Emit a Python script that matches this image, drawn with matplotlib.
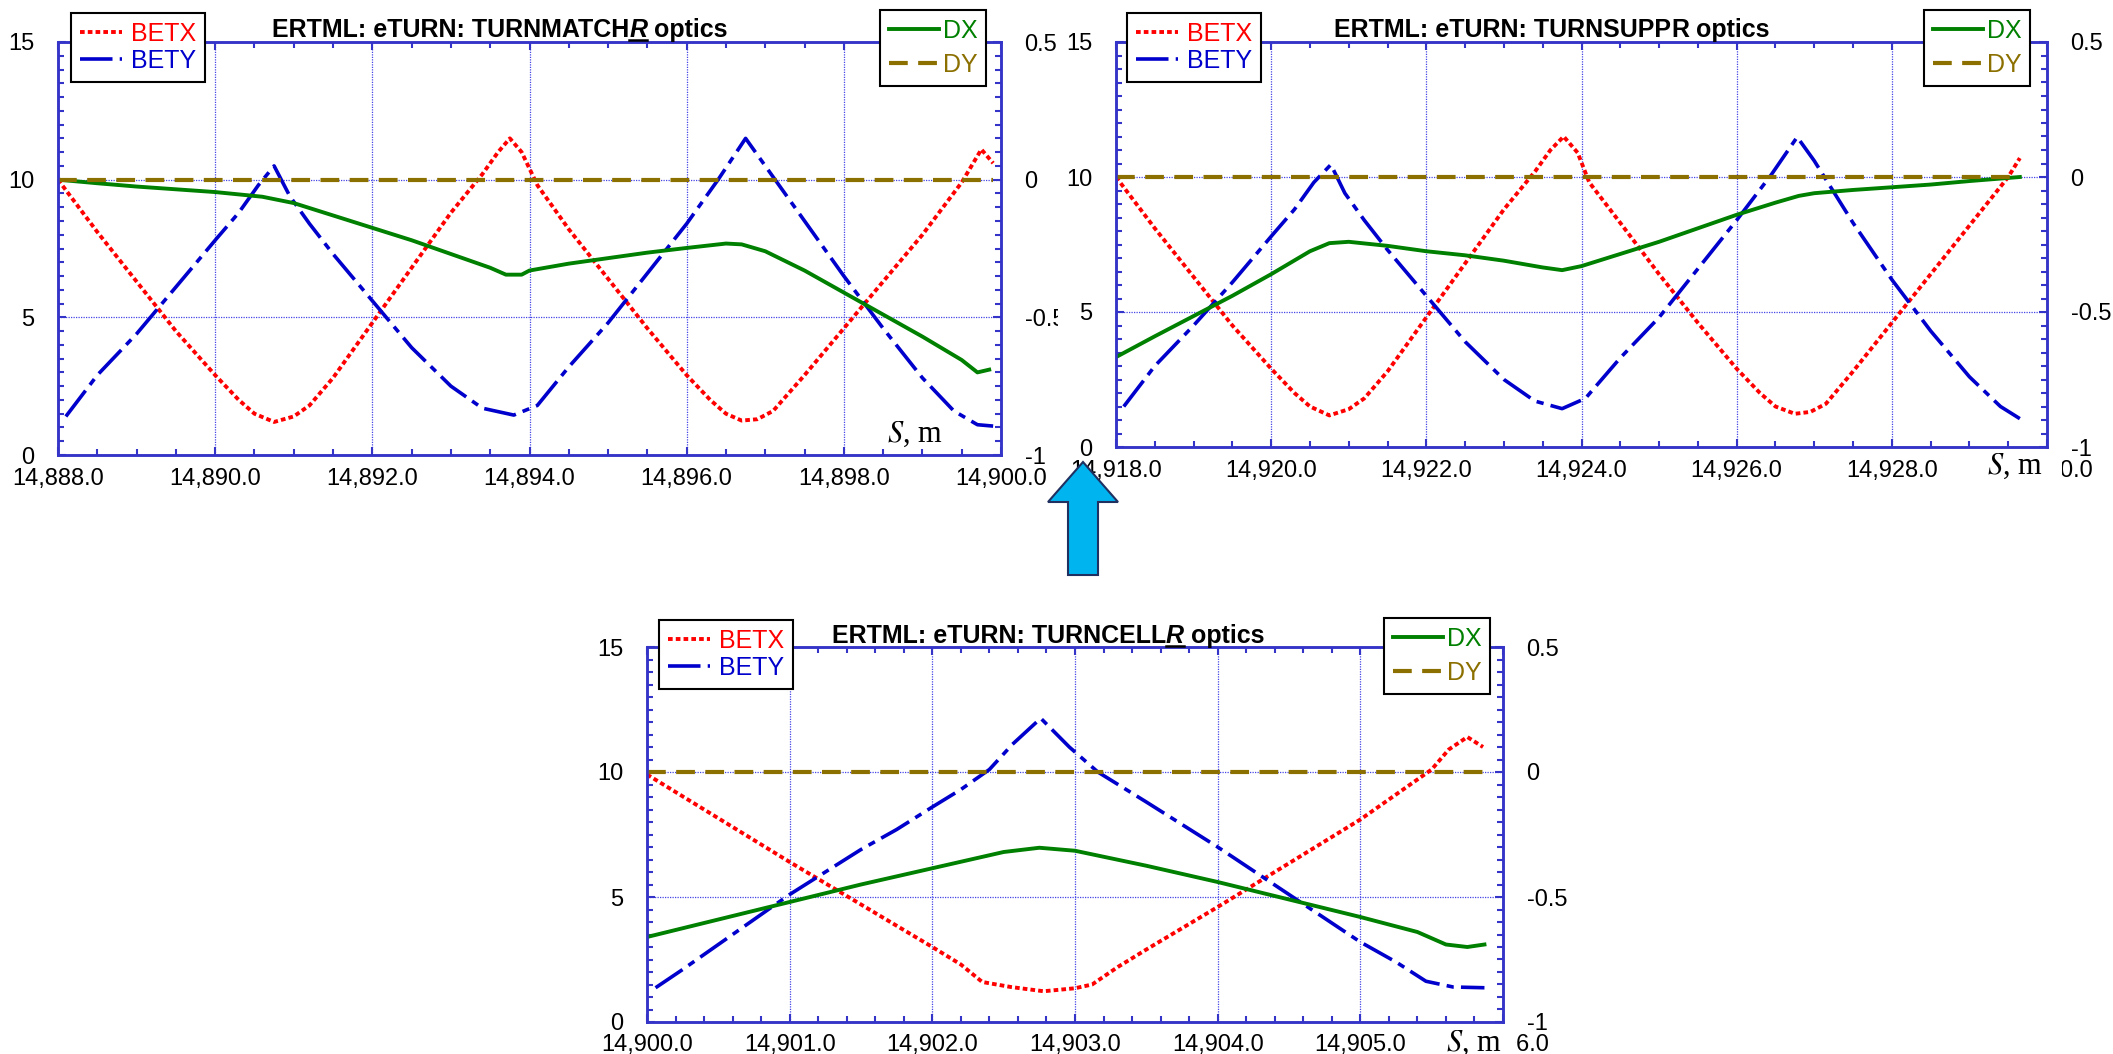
import matplotlib
matplotlib.use('Agg')
import matplotlib.pyplot as plt
from matplotlib.ticker import MultipleLocator, StrMethodFormatter, FuncFormatter
from matplotlib.patches import Rectangle, Polygon
from matplotlib.lines import Line2D

plt.rcParams['font.family'] = 'Liberation Sans'
plt.rcParams['axes.unicode_minus'] = False
plt.rcParams['mathtext.fontset'] = 'stix'

# ---- TURNMATCHR optics ----
s_match_betx = [14888.0, 14888.5, 14889.0, 14889.5, 14890.0, 14890.3, 14890.5, 14890.75, 14891.0, 14891.2,
                14891.5, 14892.0, 14892.5, 14893.0, 14893.4, 14893.6, 14893.75, 14893.9, 14894.1, 14894.5,
                14895.0, 14895.5, 14896.0, 14896.3, 14896.5, 14896.7, 14896.9, 14897.1, 14897.5, 14898.0,
                14898.5, 14899.0, 14899.5, 14899.75, 14899.9]
betx_match = [10.0, 8.1, 6.3, 4.5, 2.9, 2.0, 1.5, 1.2, 1.4, 1.8,
              2.8, 4.8, 6.8, 8.8, 10.2, 11.0, 11.5, 11.0, 9.8, 8.2,
              6.4, 4.6, 2.9, 2.0, 1.5, 1.25, 1.3, 1.6, 2.9, 4.6,
              6.3, 8.0, 9.9, 11.1, 10.6]
s_match_bety = [14888.1, 14888.5, 14889.0, 14889.5, 14890.0, 14890.3, 14890.55, 14890.75, 14890.95, 14891.2,
                14891.5, 14892.0, 14892.5, 14893.0, 14893.4, 14893.8, 14894.1, 14894.5, 14895.0, 14895.5,
                14896.0, 14896.4, 14896.75, 14897.0, 14897.5, 14898.0, 14898.5, 14899.0, 14899.4, 14899.7,
                14899.9]
bety_match = [1.4, 2.9, 4.4, 6.1, 7.8, 8.8, 9.8, 10.5, 9.4, 8.4,
              7.3, 5.6, 3.9, 2.5, 1.7, 1.45, 1.8, 3.2, 4.8, 6.6,
              8.4, 10.0, 11.5, 10.5, 8.5, 6.5, 4.6, 2.8, 1.6, 1.1,
              1.05]
s_match_dx = [14888.0, 14888.5, 14889.0, 14889.5, 14890.0, 14890.6, 14891.0, 14891.5, 14892.0, 14892.5,
              14893.0, 14893.5, 14893.7, 14893.9, 14894.0, 14894.5, 14895.0, 14895.5, 14896.0, 14896.5,
              14896.7, 14897.0, 14897.5, 14898.0, 14898.5, 14899.0, 14899.5, 14899.7, 14899.85]
dx_match = [0.0, -0.013, -0.025, -0.035, -0.045, -0.062, -0.085, -0.13, -0.175, -0.22,
            -0.27, -0.32, -0.345, -0.345, -0.33, -0.305, -0.285, -0.265, -0.248, -0.232,
            -0.235, -0.26, -0.33, -0.41, -0.49, -0.57, -0.655, -0.70, -0.69]
s_match_dy = [14888.0, 14899.9]
dy_match = [0.0, 0.0]

# ---- TURNSUPPR optics ----
s_suppr_betx = [14918.0, 14918.5, 14919.0, 14919.5, 14920.0, 14920.3, 14920.5, 14920.75, 14921.0, 14921.2,
                14921.5, 14922.0, 14922.5, 14923.0, 14923.4, 14923.6, 14923.77, 14923.95, 14924.1, 14924.5,
                14925.0, 14925.5, 14926.0, 14926.3, 14926.5, 14926.75, 14926.95, 14927.15, 14927.5, 14928.0,
                14928.5, 14929.0, 14929.5, 14929.65]
betx_suppr = [10.0, 8.1, 6.3, 4.5, 2.9, 2.0, 1.5, 1.17, 1.4, 1.8,
              2.8, 4.8, 6.8, 8.8, 10.2, 11.0, 11.5, 10.9, 9.8, 8.3,
              6.4, 4.6, 2.9, 2.0, 1.5, 1.23, 1.3, 1.6, 2.8, 4.6,
              6.4, 8.2, 10.0, 10.7]
s_suppr_bety = [14918.1, 14918.5, 14919.0, 14919.5, 14920.0, 14920.3, 14920.55, 14920.77, 14920.95, 14921.2,
                14921.5, 14922.0, 14922.5, 14923.0, 14923.4, 14923.75, 14924.05, 14924.5, 14925.0, 14925.5,
                14926.0, 14926.45, 14926.78, 14927.0, 14927.5, 14928.0, 14928.5, 14929.0, 14929.4, 14929.65]
bety_suppr = [1.5, 3.0, 4.5, 6.1, 7.8, 8.8, 9.8, 10.46, 9.4, 8.4,
              7.3, 5.6, 3.9, 2.5, 1.7, 1.42, 1.8, 3.3, 4.8, 6.6,
              8.4, 10.1, 11.48, 10.6, 8.3, 6.2, 4.3, 2.6, 1.5, 1.05]
s_suppr_dx = [14918.0, 14918.5, 14919.0, 14919.5, 14920.0, 14920.5, 14920.75, 14921.0, 14921.5, 14922.0,
              14922.5, 14923.0, 14923.5, 14923.75, 14924.0, 14924.5, 14925.0, 14925.5, 14926.0, 14926.5,
              14926.8, 14927.0, 14927.5, 14928.0, 14928.5, 14929.0, 14929.65]
dx_suppr = [-0.667, -0.59, -0.515, -0.44, -0.36, -0.275, -0.245, -0.24, -0.255, -0.275,
            -0.29, -0.31, -0.335, -0.345, -0.33, -0.285, -0.24, -0.19, -0.14, -0.095,
            -0.07, -0.06, -0.048, -0.038, -0.028, -0.015, 0.0]
s_suppr_dy = [14918.0, 14929.65]
dy_suppr = [0.0, 0.0]

# ---- TURNCELLR optics ----
s_cell_betx = [14900.0, 14900.5, 14901.0, 14901.5, 14902.0, 14902.2, 14902.35, 14902.55, 14902.78, 14903.0,
               14903.12, 14903.3, 14903.5, 14904.0, 14904.5, 14905.0, 14905.5, 14905.62, 14905.75, 14905.86]
betx_cell = [9.9, 8.15, 6.4, 4.7, 3.0, 2.3, 1.6, 1.4, 1.23, 1.35,
             1.5, 2.2, 2.9, 4.6, 6.35, 8.1, 10.1, 10.9, 11.4, 11.0]
s_cell_bety = [14900.06, 14900.25, 14900.5, 14900.75, 14901.0, 14901.25, 14901.5, 14901.75, 14902.0, 14902.2,
               14902.4, 14902.56, 14902.76, 14902.96, 14903.16, 14903.5, 14904.0, 14904.5, 14905.0, 14905.25,
               14905.46, 14905.65, 14905.87]
bety_cell = [1.37, 2.1, 3.1, 4.1, 5.1, 6.0, 6.9, 7.7, 8.6, 9.3,
             10.1, 11.1, 12.15, 11.0, 10.0, 8.8, 7.0, 5.1, 3.2, 2.4,
             1.63, 1.4, 1.37]
s_cell_dx = [14900.0, 14900.5, 14901.0, 14901.5, 14902.0, 14902.5, 14902.75, 14903.0, 14903.5, 14904.0,
             14904.5, 14905.0, 14905.4, 14905.6, 14905.75, 14905.87]
dx_cell = [-0.66, -0.59, -0.52, -0.45, -0.385, -0.32, -0.303, -0.315, -0.375, -0.44,
           -0.51, -0.58, -0.64, -0.69, -0.70, -0.69]
s_cell_dy = [14900.0, 14905.9]
dy_cell = [0.0, 0.0]

W, H = 2113, 1054
AXIS_BLUE = '#3434C8'
GRID_BLUE = '#4646E6'

fig = plt.figure(figsize=(W / 100, H / 100), dpi=100)


def px_rect(left, top, right, bottom):
    return [left / W, 1 - bottom / H, (right - left) / W, (bottom - top) / H]


def fig_xy(x, y):
    return x / W, 1 - y / H


def draw_panel(rect, xlim, xmajor, xminor, sbx, bx, sby, by, sdx, dx, sdy, dy, leg_left, leg_right, z=0):
    ax = fig.add_axes(rect)
    ax2 = ax.twinx()
    ax.set_zorder(z)
    ax2.set_zorder(z)

    l1, = ax.plot(sbx, bx, color='#FF0000', lw=2.8, ls=(0, (1.2, 0.8)), label='BETX')
    l2, = ax.plot(sby, by, color='#0000CC', lw=2.6, ls=(0, (9, 2, 2, 2)), label='BETY')
    l3, = ax2.plot(sdx, dx, color='#008000', lw=2.8, label='DX')
    l4, = ax2.plot(sdy, dy, color='#8B7000', lw=3.0, ls=(0, (4.5, 2.5)), label='DY')

    ax.set_xlim(xlim)
    ax.set_ylim(0, 15)
    ax2.set_ylim(-1, 0.5)
    ax.xaxis.set_major_locator(MultipleLocator(xmajor))
    ax.xaxis.set_minor_locator(MultipleLocator(xminor))
    ax.yaxis.set_major_locator(MultipleLocator(5))
    ax.yaxis.set_minor_locator(MultipleLocator(0.5))
    ax2.yaxis.set_major_locator(MultipleLocator(0.5))
    ax2.yaxis.set_minor_locator(MultipleLocator(0.05))
    ax.xaxis.set_major_formatter(StrMethodFormatter('{x:,.1f}'))
    ax.yaxis.set_major_formatter(FuncFormatter(lambda v, p: f'{v:g}'))
    ax2.yaxis.set_major_formatter(FuncFormatter(lambda v, p: f'{v:g}'))

    ax.grid(which='major', color=GRID_BLUE, ls=(0, (1, 1)), lw=0.9)
    for a in (ax, ax2):
        for sp in a.spines.values():
            sp.set_color(AXIS_BLUE)
            sp.set_linewidth(1.8)
    ax.tick_params(which='both', direction='in', top=True, color=AXIS_BLUE, width=1.5,
                   labelsize=17, labelcolor='black')
    ax.tick_params(which='major', length=6)
    ax.tick_params(which='minor', length=4)
    ax.tick_params(axis='y', pad=17)
    ax.tick_params(axis='x', pad=9)
    ax2.tick_params(which='both', direction='in', color=AXIS_BLUE, width=1.5,
                    labelsize=17, labelcolor='black', pad=17)
    ax2.tick_params(which='major', length=6)
    ax2.tick_params(which='minor', length=4)

    leg1 = ax2.legend(handles=[l1, l2], loc='upper left', bbox_to_anchor=fig_xy(*leg_left),
                      bbox_transform=fig.transFigure, fontsize=18, labelcolor='linecolor',
                      fancybox=False, edgecolor='black', framealpha=1, borderaxespad=0,
                      handlelength=1.7, handletextpad=0.35, borderpad=0.35, labelspacing=0.12)
    leg1.get_frame().set_linewidth(1.5)
    ax2.add_artist(leg1)
    leg2 = ax2.legend(handles=[l3, l4], loc='upper right', bbox_to_anchor=fig_xy(*leg_right),
                      bbox_transform=fig.transFigure, fontsize=18, labelcolor='linecolor',
                      fancybox=False, edgecolor='black', framealpha=1, borderaxespad=0,
                      handlelength=2.0, handletextpad=0.15, borderpad=0.35, labelspacing=0.4)
    leg2.get_frame().set_linewidth(1.5)
    return ax, ax2


def draw_title(cx, base_y, head, tail, italic_r):
    renderer = fig.canvas.get_renderer()
    kw = dict(fontsize=18, fontweight='bold', va='baseline', ha='left')
    y = 1 - base_y / H
    t1 = fig.text(0, y, head, **kw)
    t2 = fig.text(0, y, 'R', fontstyle='italic' if italic_r else 'normal', **kw)
    t3 = fig.text(0, y, tail, **kw)
    w1 = t1.get_window_extent(renderer).width
    w2 = t2.get_window_extent(renderer).width
    w3 = t3.get_window_extent(renderer).width
    gap = 7
    x0 = cx - (w1 + w2 + gap + w3) / 2
    t1.set_x(x0 / W)
    t2.set_x((x0 + w1) / W)
    t3.set_x((x0 + w1 + w2 + gap) / W)
    if italic_r:
        fig.add_artist(Line2D([(x0 + w1) / W, (x0 + w1 + w2) / W], [1 - (base_y + 3) / H] * 2,
                              color='black', lw=1.8, transform=fig.transFigure))


def s_label(x, base_y, cover=None, z=4):
    if cover is not None:
        x0, y0, x1, y1 = cover
        fig.add_artist(Rectangle(fig_xy(x0, y1), (x1 - x0) / W, (y1 - y0) / H,
                                 transform=fig.transFigure, facecolor='white',
                                 edgecolor='none', zorder=z - 1))
    fig.text(x / W, 1 - base_y / H, '$S$, m', fontsize=22, family='Liberation Serif',
             va='baseline', ha='left', zorder=z)


# top left: TURNMATCHR
draw_panel(px_rect(58, 42, 1001, 455), (14888, 14900), 2, 0.5,
           s_match_betx, betx_match, s_match_bety, bety_match,
           s_match_dx, dx_match, s_match_dy, dy_match,
           leg_left=(71, 13), leg_right=(986, 10), z=0)
draw_title(500, 37, 'ERTML: eTURN: TURNMATCH', 'optics', True)
s_label(887, 442)

# the right-hand labels of the first panel are cut where the second begins
fig.add_artist(Rectangle(fig_xy(1058, 500), 60 / W, 500 / H, transform=fig.transFigure,
                         facecolor='white', edgecolor='none', zorder=1))

# top right: TURNSUPPR
draw_panel(px_rect(1116, 42, 2047, 447), (14918, 14930), 2, 0.5,
           s_suppr_betx, betx_suppr, s_suppr_bety, bety_suppr,
           s_suppr_dx, dx_suppr, s_suppr_dy, dy_suppr,
           leg_left=(1127, 13), leg_right=(2030, 10), z=2)
draw_title(1552, 37, 'ERTML: eTURN: TURNSUPP', 'optics', False)
s_label(1987, 474, cover=(1982, 450, 2062, 492))

# bottom: TURNCELLR
draw_panel(px_rect(647, 647, 1503, 1022), (14900, 14906), 1, 0.2,
           s_cell_betx, betx_cell, s_cell_bety, bety_cell,
           s_cell_dx, dx_cell, s_cell_dy, dy_cell,
           leg_left=(659, 620), leg_right=(1490, 618), z=0)
draw_title(1048, 643, 'ERTML: eTURN: TURNCELL', 'optics', True)
s_label(1446, 1051, cover=(1440, 1026, 1515, 1054))

# blue arrow pointing from the cell panel up to the turn panels
arrow_px = [(1083, 462), (1118, 502), (1098, 502), (1098, 575),
            (1068, 575), (1068, 502), (1048, 502)]
arrow_in = [(x / 100, (H - y) / 100) for x, y in arrow_px]
fig.add_artist(Polygon(arrow_in, closed=True, transform=fig.dpi_scale_trans,
                       facecolor='#00B4F0', edgecolor='#203060', lw=1.5, zorder=6))

fig.savefig('out.png', dpi=100)
